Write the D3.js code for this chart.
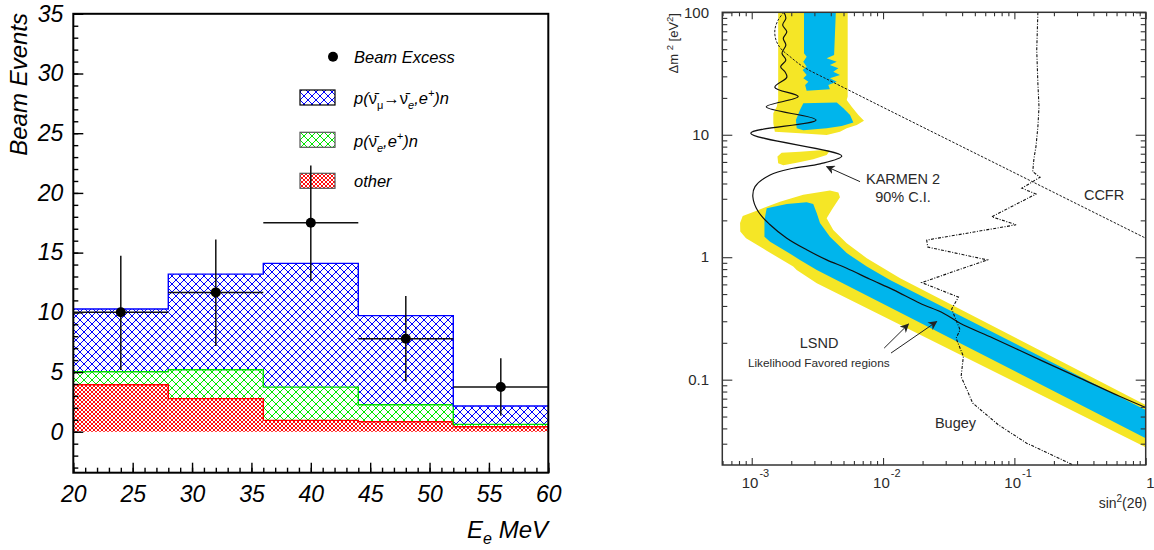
<!DOCTYPE html>
<html><head><meta charset="utf-8">
<script src="https://cdn.jsdelivr.net/npm/d3@7"></script>
<style>body{margin:0;background:#fff} svg{display:block}</style>
</head><body><svg id="c" width="1154" height="550"></svg>
<script>
// ================= LEFT PANEL DATA =================
const binEdges = [20, 28, 36, 44, 52, 60];
const otherEvents = [3.94, 2.77, 0.95, 0.84, 0.42];
const nueEvents = [1.09, 2.42, 2.79, 1.42, 0.20];
const oscEvents = [5.25, 8.01, 10.36, 7.46, 1.53];
const excessCenters = [24, 32, 40, 48, 56];
const excessValues = [10.0, 11.67, 17.5, 7.79, 3.74];
const excessErrUp = [4.74, 4.43, 4.8, 3.58, 2.41];
const excessErrDown = [4.83, 4.49, 4.85, 3.6, 2.4];
const excessHalfWidth = [4, 4, 4, 4, 4];
const leftYTickLabels = [0, 5, 10, 15, 20, 25, 30, 35];
const leftXTickLabels = [20, 25, 30, 35, 40, 45, 50, 55, 60];

// ================= RIGHT PANEL DATA ([sin^2(2θ), Δm^2]) =================
const lsndOuterLow = [[8.18e-4,1.62],[8.15e-4,1.90],[8.54e-4,2.17],[1.09e-3,2.40],[1.64e-3,2.84],[2.47e-3,3.23],[3.94e-3,3.50],[4.57e-3,3.37],[4.70e-3,3.09],[4.06e-3,2.43],[3.72e-3,2.08],[4.18e-3,1.67],[5.29e-3,1.30],[7.52e-3,0.982],[1.35e-2,0.674],[1.0,0.0622],[1.0,0.0281],[3.13e-3,0.614],[2.20e-3,0.787],[2.07e-3,0.838],[1.30e-3,1.13],[9.05e-4,1.43]];
const lsndInnerLow = [[1.30e-3,2.51],[1.85e-3,2.72],[2.62e-3,2.81],[2.94e-3,2.72],[3.13e-3,2.29],[3.31e-3,1.90],[3.94e-3,1.47],[5.29e-3,1.08],[7.52e-3,0.838],[1.13e-2,0.653],[1.0,0.0566],[1.0,0.0333],[3.13e-3,0.787],[2.33e-3,0.951],[1.85e-3,1.11],[1.38e-3,1.34],[1.25e-3,1.47],[1.25e-3,2.01]];
const lsndOuterUp = [[1.59e-3,100],[5.38e-3,100],[5.38e-3,20.5],[5.29e-3,19.2],[5.77e-3,16.9],[6.49e-3,14.5],[7.16e-3,13.0],[6.31e-3,12.0],[5.29e-3,11.3],[4.70e-3,10.6],[3.72e-3,9.96],[2.33e-3,10.3],[1.50e-3,10.6],[1.46e-3,12.4],[1.46e-3,15.0],[1.55e-3,16.9],[1.59e-3,19.2]];
const lsndOuterLens = [[1.57e-3,6.63],[1.69e-3,7.14],[2.33e-3,7.28],[3.51e-3,7.52],[3.94e-3,7.41],[3.72e-3,6.84],[2.94e-3,6.31],[2.20e-3,5.92],[1.74e-3,5.64],[1.59e-3,5.85]];
const lsndInnerUpA = [[2.50e-3,100],[4.37e-3,100],[4.24e-3,44.8],[3.72e-3,42.1],[4.44e-3,39.5],[3.94e-3,37.1],[4.57e-3,34.9],[4.18e-3,32.7],[4.70e-3,30.8],[3.94e-3,28.9],[4.44e-3,27.1],[3.83e-3,25.5],[3.94e-3,23.5],[2.62e-3,22.9],[2.55e-3,25.5],[2.70e-3,27.1],[2.47e-3,28.9],[2.62e-3,30.8],[2.44e-3,33.8],[2.62e-3,35.9],[2.47e-3,39.5],[2.62e-3,43.4],[2.50e-3,46.3]];
const lsndInnerUpB = [[2.47e-3,18.1],[4.44e-3,18.3],[4.99e-3,16.5],[5.61e-3,14.5],[5.94e-3,12.6],[4.85e-3,11.8],[3.72e-3,11.3],[2.47e-3,10.9],[2.20e-3,11.3],[2.17e-3,13.2],[2.33e-3,15.9]];
const karmenCurve = [[1.76e-3,100],[1.82e-3,89.3],[1.72e-3,78.8],[1.85e-3,69.4],[1.74e-3,61.3],[1.82e-3,54.1],[1.70e-3,46.3],[1.82e-3,40.8],[1.66e-3,35.9],[1.79e-3,32.7],[1.85e-3,29.5],[1.50e-3,24.4],[2.26e-3,20.5],[1.29e-3,16.9],[3.09e-3,13.2],[9.83e-4,10.3],[4.85e-3,6.71],[3.31e-3,5.78],[2.07e-3,5.33],[1.38e-3,4.70],[1.06e-3,3.77],[1.02e-3,3.12],[1.12e-3,2.36],[1.38e-3,1.84],[1.85e-3,1.43],[2.62e-3,1.15],[3.72e-3,0.951],[5.29e-3,0.813],[7.96e-3,0.661],[1.20e-2,0.541],[1.91e-2,0.421],[2.88e-2,0.349],[3.86e-2,0.289],[6.92e-2,0.218],[0.166,0.141],[0.316,0.103],[0.638,0.0728],[1.0,0.0592]];
const ccfrCurve = [[1.76e-3,100],[1.59e-3,86.5],[1.50e-3,71.7],[1.53e-3,59.4],[1.66e-3,50.8],[1.96e-3,43.4],[2.47e-3,35.9],[4.18e-3,26.8],[0.140,4.09],[1.0,1.43]];
const bugeyCurve = [[0.151,100],[0.148,49.2],[0.151,26.3],[0.154,16.9],[0.151,11.6],[0.146,8.0],[0.141,6.43],[0.138,5.00],[0.157,4.50],[0.114,3.66],[0.146,3.28],[0.0673,2.14],[0.103,1.84],[0.0215,1.38],[0.0219,1.21],[0.0622,0.951],[0.0197,0.621],[0.0375,0.472],[0.0333,0.377],[0.0386,0.255],[0.0360,0.218],[0.0409,0.155],[0.0393,0.106],[0.0482,0.0643],[0.0755,0.0428],[0.124,0.0303],[0.281,0.0201]];
const rightXMajor = [1e-3, 1e-2, 1e-1, 1];
const rightXExponents = ["-3", "-2", "-1", null];
const rightYMajor = [0.1, 1, 10, 100];
const rightYLabels = ["0.1", "1", "10", "100"];
// annotation anchors (data coordinates)
const annoTexts = [
  {t:"KARMEN 2", at:[1.42e-2,3.97], size:14.5},
  {t:"90% C.I.", at:[1.42e-2,2.84], size:14.5},
  {t:"CCFR", at:[0.482,2.94], size:14.5},
  {t:"LSND", at:[3.26e-3,0.181], size:14.5},
  {t:"Likelihood Favored regions", at:[3.24e-3,0.128], size:11.8},
  {t:"Bugey", at:[3.56e-2,0.0402], size:14.5}
];
const annoArrows = [
  {from:[6.68e-3,4.14], to:[3.72e-3,5.49]},
  {from:[1.02e-2,0.181], to:[1.56e-2,0.284]},
  {from:[1.15e-2,0.165], to:[2.56e-2,0.298]}
];

// ================= DRAW =================
const svg = d3.select("#c");
const defs = svg.append("defs");
function hatch(id, color, s, w) {
  const p = defs.append("pattern").attr("id", id).attr("patternUnits","userSpaceOnUse")
    .attr("width", s).attr("height", s);
  p.append("rect").attr("width", s).attr("height", s).attr("fill", "#fff");
  p.append("path").attr("d", `M0,0L${s},${s}M${s},0L0,${s}M-2,${s-2}L2,${s+2}M${s-2},-2L${s+2},2M-2,2L2,-2M${s-2},${s+2}L${s+2},${s-2}`)
    .attr("stroke", color).attr("stroke-width", w).attr("fill", "none");
}
hatch("hBlue", "#0000ff", 8, 1);
hatch("hGreen", "#00e600", 8, 1);
hatch("hRed", "#ff0000", 4, 0.95);

const FONT = "'Liberation Sans', Arial, Helvetica, sans-serif";

// ---- Left panel ----
const lx = d3.scaleLinear().domain([20, 60]).range([73.3, 548.3]);
const ly = d3.scaleLinear().domain([-3.43, 35]).range([472.7, 13.8]);
const L = svg.append("g");

const rows = otherEvents.map((v, i) => ({i, other: v, nue: nueEvents[i], osc: oscEvents[i]}));
const keys = ["other", "nue", "osc"];
const stacked = d3.stack().keys(keys)(rows);
const fills = {other: "url(#hRed)", nue: "url(#hGreen)", osc: "url(#hBlue)"};
const outl = {other: "#ff0000", nue: "#00dd00", osc: "#0000ff"};

stacked.forEach(layer => {
  L.append("g").selectAll("rect").data(layer).join("rect")
    .attr("x", d => lx(binEdges[d.data.i]))
    .attr("width", d => lx(binEdges[d.data.i + 1]) - lx(binEdges[d.data.i]))
    .attr("y", d => ly(d[1]))
    .attr("height", d => ly(d[0]) - ly(d[1]))
    .attr("fill", fills[layer.key]);
});
stacked.forEach(layer => {
  const pts = [];
  layer.forEach(d => { pts.push([binEdges[d.data.i], d[1]]); pts.push([binEdges[d.data.i + 1], d[1]]); });
  L.append("path").attr("d", d3.line().x(p => lx(p[0])).y(p => ly(p[1]))(pts))
    .attr("fill", "none").attr("stroke", outl[layer.key]).attr("stroke-width", 1.4);
});

// axes (ticks inside)
const yMinor = d3.axisLeft(ly).tickValues(d3.range(-3, 36)).tickSize(-5).tickFormat("");
const yMajor = d3.axisLeft(ly).tickValues(leftYTickLabels).tickSize(-10).tickPadding(10).tickFormat(d3.format("d"));
const xMinor = d3.axisBottom(lx).tickValues(d3.range(20, 61)).tickSize(-5).tickFormat("");
const xMajor = d3.axisBottom(lx).tickValues(leftXTickLabels).tickSize(-10).tickPadding(13).tickFormat(d3.format("d"));
function styleAxis(g) {
  g.select(".domain").remove();
  g.selectAll("line").attr("stroke", "#000").attr("stroke-width", 1.4);
  g.selectAll("text").attr("font-family", FONT).attr("font-style", "italic").attr("font-size", 23).attr("fill", "#000");
}
L.append("g").attr("transform", "translate(73.3,0)").call(yMinor).call(styleAxis);
L.append("g").attr("transform", "translate(73.3,0)").call(yMajor).call(styleAxis);
L.append("g").attr("transform", "translate(0,472.7)").call(xMinor).call(styleAxis);
L.append("g").attr("transform", "translate(0,472.7)").call(xMajor).call(styleAxis);
L.append("rect").attr("x", lx(20)).attr("y", ly(35)).attr("width", lx(60) - lx(20)).attr("height", ly(-3.43) - ly(35))
  .attr("fill", "none").attr("stroke", "#000").attr("stroke-width", 2);

// axis titles
L.append("text").attr("transform", "translate(27,13) rotate(-90)").attr("text-anchor", "end")
  .attr("font-family", FONT).attr("font-style", "italic").attr("font-size", 24).text("Beam Events");
const xt = L.append("text").attr("x", 548).attr("y", 538).attr("text-anchor", "end")
  .attr("font-family", FONT).attr("font-style", "italic").attr("font-size", 24);
xt.append("tspan").text("E");
xt.append("tspan").attr("font-size", 16).attr("dy", 6).text("e");
xt.append("tspan").attr("dy", -6).text(" MeV");

// legend
const LG = L.append("g").attr("font-family", FONT).attr("font-style", "italic").attr("font-size", 16.5);
LG.append("circle").attr("cx", 333).attr("cy", 56.7).attr("r", 5).attr("fill", "#000");
LG.append("text").attr("x", 354).attr("y", 63).text("Beam Excess");
const boxY = [90, 132.3, 173.3];
const boxFill = ["url(#hBlue)", "url(#hGreen)", "url(#hRed)"];
const boxStroke = ["#000", "#555", "#555"];
boxY.forEach((y, i) => {
  LG.append("rect").attr("x", 300).attr("y", y).attr("width", 35).attr("height", 15)
    .attr("fill", boxFill[i]).attr("stroke", boxStroke[i]).attr("stroke-width", 1.2);
});
const t1 = LG.append("text").attr("x", 354).attr("y", 104);
t1.append("tspan").text("p(");
t1.append("tspan").attr("font-style", "normal").text("ν\u0304");
t1.append("tspan").attr("font-style", "normal").attr("font-size", 11).attr("dy", 5).text("μ");
t1.append("tspan").attr("font-style", "normal").attr("dy", -5).text("→");
t1.append("tspan").attr("font-style", "normal").text("ν\u0304");
t1.append("tspan").attr("font-size", 11).attr("dy", 5).text("e");
t1.append("tspan").attr("dy", -5).text(",e");
t1.append("tspan").attr("font-size", 11).attr("dy", -7).text("+");
t1.append("tspan").attr("dy", 7).text(")n");
const t2 = LG.append("text").attr("x", 354).attr("y", 146.5);
t2.append("tspan").text("p(");
t2.append("tspan").attr("font-style", "normal").text("ν\u0304");
t2.append("tspan").attr("font-size", 11).attr("dy", 5).text("e");
t2.append("tspan").attr("dy", -5).text(",e");
t2.append("tspan").attr("font-size", 11).attr("dy", -7).text("+");
t2.append("tspan").attr("dy", 7).text(")n");
LG.append("text").attr("x", 354).attr("y", 187).text("other");

// data points with error bars (drawn last)
const EB = L.append("g").attr("stroke", "#111").attr("stroke-width", 1.5);
excessCenters.forEach((c, i) => {
  EB.append("line").attr("x1", lx(c - excessHalfWidth[i])).attr("x2", lx(c + excessHalfWidth[i]))
    .attr("y1", ly(excessValues[i])).attr("y2", ly(excessValues[i]));
  EB.append("line").attr("x1", lx(c)).attr("x2", lx(c))
    .attr("y1", ly(excessValues[i] - excessErrDown[i])).attr("y2", ly(excessValues[i] + excessErrUp[i]));
});
L.append("g").selectAll("circle").data(excessCenters).join("circle")
  .attr("cx", d => lx(d)).attr("cy", (d, i) => ly(excessValues[i])).attr("r", 5).attr("fill", "#000");

// ---- Right panel ----
const rx = d3.scaleLog().domain([5.97e-4, 1]).range([722.3, 1145.7]);
const ry = d3.scaleLog().domain([0.0201, 100]).range([465, 12.3]);
const R = svg.append("g");
defs.append("clipPath").attr("id", "rclip").append("rect")
  .attr("x", 722.3).attr("y", 12.3).attr("width", 1145.7 - 722.3).attr("height", 465 - 12.3);
const P = R.append("g").attr("clip-path", "url(#rclip)");
const poly = d3.line().x(d => rx(d[0])).y(d => ry(d[1]));
const YEL = "#f5e626", BLU = "#00b5ec";
[lsndOuterLow, lsndOuterUp, lsndOuterLens].forEach(a => P.append("path").attr("d", poly(a) + "Z").attr("fill", YEL));
[lsndInnerLow, lsndInnerUpA, lsndInnerUpB].forEach(a => P.append("path").attr("d", poly(a) + "Z").attr("fill", BLU));
P.append("path").attr("d", d3.line().x(d => rx(d[0])).y(d => ry(d[1])).curve(d3.curveCatmullRom.alpha(0.5))(karmenCurve))
  .attr("fill", "none").attr("stroke", "#111").attr("stroke-width", 1.2);
P.append("path").attr("d", d3.line().x(d => rx(d[0])).y(d => ry(d[1])).curve(d3.curveCatmullRom.alpha(0.5))(ccfrCurve))
  .attr("fill", "none").attr("stroke", "#1a1a1a").attr("stroke-width", 1).attr("stroke-dasharray", "2.5,1.5");
P.append("path").attr("d", poly(bugeyCurve))
  .attr("fill", "none").attr("stroke", "#111").attr("stroke-width", 1.1).attr("stroke-dasharray", "3,1.5,1,1.5");

// ticks
const rAxisColor = "#333";
function styleR(g) {
  g.select(".domain").remove();
  g.selectAll("line").attr("stroke", rAxisColor).attr("stroke-width", 1.1);
}
const xAll = rx.ticks().filter(v => v >= 5.97e-4 && v <= 1);
const xMin = xAll.filter(v => !rightXMajor.some(m => Math.abs(m - v) / m < 1e-6));
const yAll = ry.ticks().filter(v => v >= 0.0201 && v <= 100);
const yMin = yAll.filter(v => !rightYMajor.some(m => Math.abs(m - v) / m < 1e-6));
R.append("g").attr("transform", "translate(0,465)").call(d3.axisBottom(rx).tickValues(xMin).tickSize(-4).tickFormat("")).call(styleR);
R.append("g").attr("transform", "translate(0,465)").call(d3.axisBottom(rx).tickValues(rightXMajor).tickSize(-7).tickFormat("")).call(styleR);
R.append("g").attr("transform", "translate(0,12.3)").call(d3.axisTop(rx).tickValues(xMin).tickSize(-4).tickFormat("")).call(styleR);
R.append("g").attr("transform", "translate(0,12.3)").call(d3.axisTop(rx).tickValues(rightXMajor).tickSize(-7).tickFormat("")).call(styleR);
R.append("g").attr("transform", "translate(722.3,0)").call(d3.axisLeft(ry).tickValues(yMin).tickSize(-5).tickFormat("")).call(styleR);
R.append("g").attr("transform", "translate(722.3,0)").call(d3.axisLeft(ry).tickValues(rightYMajor).tickSize(-10).tickFormat("")).call(styleR);
R.append("g").attr("transform", "translate(1145.7,0)").call(d3.axisRight(ry).tickValues(yMin).tickSize(-5).tickFormat("")).call(styleR);
R.append("g").attr("transform", "translate(1145.7,0)").call(d3.axisRight(ry).tickValues(rightYMajor).tickSize(-10).tickFormat("")).call(styleR);
R.append("rect").attr("x", 722.3).attr("y", 12.3).attr("width", 1145.7 - 722.3).attr("height", 465 - 12.3)
  .attr("fill", "none").attr("stroke", rAxisColor).attr("stroke-width", 1.5);

const RT = R.append("g").attr("font-family", FONT).attr("fill", "#2a2a2a");
rightYMajor.forEach((v, i) => {
  RT.append("text").attr("x", 709).attr("y", ry(v)).attr("dy", "0.35em").attr("text-anchor", "end")
    .attr("font-size", 15).text(rightYLabels[i]);
});
rightXMajor.forEach((v, i) => {
  const e = rightXExponents[i];
  if (e) {
    const t = RT.append("text").attr("x", rx(v) - 10).attr("y", 488).attr("font-size", 15);
    t.append("tspan").text("10");
    t.append("tspan").attr("font-size", 11).attr("dy", -11).attr("dx", 1).text(e);
  } else {
    RT.append("text").attr("x", rx(v) + 0.5).attr("y", 488).attr("font-size", 15).text("1");
  }
});
const st = RT.append("text").attr("x", 1147).attr("y", 508).attr("text-anchor", "end").attr("font-size", 14);
st.append("tspan").text("sin");
st.append("tspan").attr("font-size", 10).attr("dy", -6).text("2");
st.append("tspan").attr("dy", 6).text("(2θ)");
const yt = RT.append("text").attr("transform", "translate(678,13) rotate(-90)").attr("text-anchor", "end").attr("font-size", 13);
yt.append("tspan").text("Δm ");
yt.append("tspan").attr("font-size", 9.5).attr("dy", -5).text("2");
yt.append("tspan").attr("dy", 5).text(" [eV");
yt.append("tspan").attr("font-size", 9.5).attr("dy", -5).text("2");
yt.append("tspan").attr("dy", 5).text("]");

annoTexts.forEach(a => {
  RT.append("text").attr("x", rx(a.at[0])).attr("y", ry(a.at[1])).attr("text-anchor", "middle")
    .attr("font-size", a.size).text(a.t);
});
defs.append("marker").attr("id", "arr").attr("viewBox", "0 0 10 10").attr("refX", 9).attr("refY", 5)
  .attr("markerWidth", 9).attr("markerHeight", 9).attr("markerUnits", "userSpaceOnUse").attr("orient", "auto")
  .append("path").attr("d", "M0,0L10,5L0,10L3,5Z").attr("fill", "#222");
annoArrows.forEach(a => {
  R.append("line").attr("x1", rx(a.from[0])).attr("y1", ry(a.from[1])).attr("x2", rx(a.to[0])).attr("y2", ry(a.to[1]))
    .attr("stroke", "#222").attr("stroke-width", 1).attr("marker-end", "url(#arr)");
});
</script></body></html>
